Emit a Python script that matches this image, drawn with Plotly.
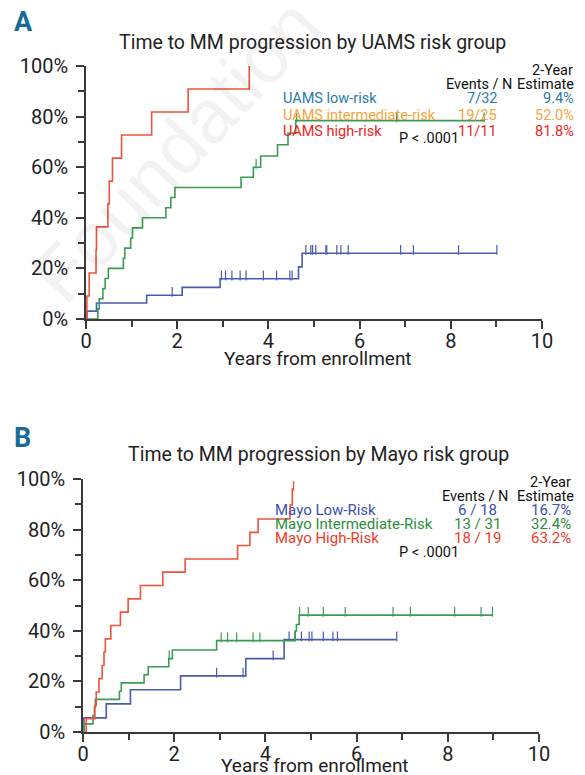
import plotly.graph_objects as go

W, H = 585, 775
FONT = "Roboto, Liberation Sans, Arial, sans-serif"

# ---------------- Data: panel A (UAMS) ----------------
a_low_t = [0, 0.02, 0.23, 1.33, 2.11, 2.94, 4.66, 4.74]
a_low_v = [0, 3.1, 6.3, 9.4, 12.5, 15.9, 20.6, 26.0]
a_low_end = 9.01
a_low_cens = [1.89, 2.97, 3.06, 3.20, 3.38, 3.51, 3.89, 4.18, 4.47, 4.52, 4.82, 4.93,
              4.97, 5.04, 5.26, 5.28, 5.50, 5.59, 5.75, 6.90, 7.18, 8.17, 9.01]

a_int_t = [0, 0.26, 0.29, 0.37, 0.42, 0.49, 0.82, 0.85, 0.98, 1.02, 1.24, 1.75, 1.86,
           1.95, 3.40, 3.67, 3.83, 4.20, 4.43, 4.60]
a_int_v = [0, 4.0, 8.0, 12.0, 16.0, 20.0, 24.0, 28.0, 32.0, 36.0, 40.0, 44.0, 48.0,
           52.0, 56.0, 60.0, 64.4, 68.9, 73.4, 78.4]
a_int_end = 8.73
a_int_cens = [3.73, 4.62, 6.81, 8.73]

a_high_t = [0, 0.02, 0.07, 0.22, 0.23, 0.48, 0.51, 0.58, 0.78, 1.44, 2.24, 3.58]
a_high_v = [0, 9.1, 18.2, 27.3, 36.4, 45.5, 54.5, 63.6, 72.7, 81.8, 90.9, 100]
a_high_end = 3.58
a_high_cens = []

# ---------------- Data: panel B (Mayo) ----------------
b_low_t = [0, 0.02, 0.51, 1.04, 2.14, 3.57, 4.41]
b_low_v = [0, 5.6, 11.1, 16.7, 22.2, 29.0, 36.5]
b_low_end = 6.88
b_low_cens = [2.93, 3.51, 4.17, 4.52, 4.65, 4.79, 4.96, 5.02, 5.27, 5.48, 5.58, 6.88]

b_int_t = [0, 0.02, 0.22, 0.25, 0.27, 0.80, 0.84, 1.34, 1.43, 1.88, 1.96, 2.93, 4.65,
           4.68, 4.74]
b_int_v = [0, 3.2, 6.5, 9.7, 12.9, 16.1, 19.4, 22.6, 25.8, 29.0, 32.4, 36.1, 39.9,
           42.5, 46.2]
b_int_end = 8.98
b_int_cens = [1.89, 3.03, 3.17, 3.37, 3.73, 3.88, 4.75, 4.94, 5.27, 5.75, 6.80, 7.18,
              8.15, 8.73, 8.98]

b_high_t = [0, 0.07, 0.26, 0.29, 0.35, 0.42, 0.46, 0.49, 0.61, 0.82, 0.99, 1.26, 1.75,
            2.24, 3.39, 3.66, 3.84, 4.54, 4.59]
b_high_v = [0, 5.3, 10.5, 15.8, 21.1, 26.3, 31.6, 36.8, 42.1, 47.4, 52.6, 57.9, 63.2,
            68.4, 73.7, 78.9, 84.2, 89.7, 96.0]
b_high_end = 4.62
b_high_cens = [4.62]

# legend tables
a_names = ["UAMS low-risk", "UAMS intermediate-risk", "UAMS high-risk"]
a_events = ["7/32", "19/25", "11/11"]
a_est = ["9.4%", "52.0%", "81.8%"]
b_names = ["Mayo Low-Risk", "Mayo Intermediate-Risk", "Mayo High-Risk"]
b_events = ["6 / 18", "13 / 31", "18 / 19"]
b_est = ["16.7%", "32.4%", "63.2%"]

x_ticks = [0, 2, 4, 6, 8, 10]
y_ticks = [0, 20, 40, 60, 80, 100]

# colours
C_RED = "#f1523e"
C_GREEN = "#3d9a55"
C_BLUE = "#4a5aae"
A_LEG = ["#2a7aaa", "#f6a440", "#ee2424"]
B_LEG = ["#3b50b3", "#2e8c40", "#f03a2c"]
AXC = "#3a3a3a"


def px(x):
    return x / W


def py(y):
    return 1 - y / H


fig = go.Figure()


def step_val(ts, vs, t):
    v = vs[0]
    for ti, vi in zip(ts, vs):
        if ti <= t:
            v = vi
    return v


def add_curve(ts, vs, end, cens, color, xa, ya):
    x = list(ts)
    y = list(vs)
    if end > ts[-1]:
        x.append(end)
        y.append(vs[-1])
    fig.add_trace(go.Scatter(x=x, y=y, mode="lines",
                             line=dict(color=color, width=1.6, shape="hv"),
                             xaxis=xa, yaxis=ya, showlegend=False, hoverinfo="skip"))
    if cens:
        cy = [step_val(ts, vs, c) + 1.3 for c in cens]
        fig.add_trace(go.Scatter(x=cens, y=cy, mode="markers",
                                 marker=dict(symbol="line-ns", size=7,
                                             line=dict(color=color, width=1.2)),
                                 xaxis=xa, yaxis=ya, showlegend=False, hoverinfo="skip",
                                 cliponaxis=False))


add_curve(a_low_t, a_low_v, a_low_end, a_low_cens, C_BLUE, "x", "y")
add_curve(a_int_t, a_int_v, a_int_end, a_int_cens, C_GREEN, "x", "y")
add_curve(a_high_t, a_high_v, a_high_end, a_high_cens, C_RED, "x", "y")

add_curve(b_low_t, b_low_v, b_low_end, b_low_cens, C_BLUE, "x2", "y2")
add_curve(b_int_t, b_int_v, b_int_end, b_int_cens, C_GREEN, "x2", "y2")
add_curve(b_high_t, b_high_v, b_high_end, b_high_cens, C_RED, "x2", "y2")

tickfont = dict(family=FONT, size=20, color="#222")


def xax(domain, anchor):
    return dict(domain=domain, anchor=anchor, range=[0, 10], tickvals=x_ticks,
                ticktext=[str(v) for v in x_ticks], automargin=False,
                ticks="outside", ticklen=8, tickwidth=1.5, tickcolor=AXC,
                showline=True, linecolor=AXC, linewidth=1.8, showgrid=False,
                zeroline=False, tickfont=tickfont, ticklabelstandoff=-5,
                minor=dict(ticks="outside", ticklen=6, tickwidth=1.5, tickcolor=AXC,
                           dtick=1, showgrid=False))


def yax(domain, anchor):
    return dict(domain=domain, anchor=anchor, range=[0, 100], tickvals=y_ticks,
                ticktext=[f"{v}%" for v in y_ticks], automargin=False,
                ticks="outside", ticklen=8, tickwidth=1.5, tickcolor=AXC,
                showline=True, linecolor=AXC, linewidth=1.8, showgrid=False,
                zeroline=False, tickfont=tickfont, ticklabelstandoff=4,
                minor=dict(ticks="outside", ticklen=6, tickwidth=1.5, tickcolor=AXC,
                           dtick=10, showgrid=False))


ann = []


def text(x, y, s, size=15, color="#111", xanchor="left", angle=0):
    ann.append(dict(x=px(x), y=py(y), xref="paper", yref="paper", text=s,
                    showarrow=False, xanchor=xanchor, yanchor="middle",
                    textangle=angle,
                    font=dict(family=FONT, size=size, color=color)))


# watermark (translucent so the curves and labels show through)
ann.append(dict(x=px(175), y=py(150), xref="paper", yref="paper", text="Foundation",
                showarrow=False, xanchor="center", yanchor="middle", textangle=-47,
                font=dict(family="Liberation Sans, Arial, sans-serif", size=76,
                          color="rgba(0,0,0,0.05)")))

# Panel A texts
text(12, 22, "<b>A</b>", size=27, color="#1a6a98")
text(312, 42, "Time to MM progression by UAMS risk group", size=19.5, color="#222",
     xanchor="center")
text(552, 71, "2-Year", size=14.5, xanchor="center")
text(576, 84, "Estimate", size=14.5, xanchor="right")
text(514, 84, "Events / N", size=14.5, xanchor="right")
for i, yy in enumerate([99, 115, 131]):
    text(281, yy, a_names[i], size=14.5, color=A_LEG[i])
    text(499, yy, a_events[i], size=14.5, color=A_LEG[i], xanchor="right")
    text(576, yy, a_est[i], size=14.5, color=A_LEG[i], xanchor="right")
text(429, 139, "P < .0001", size=14.5, xanchor="center")
text(318, 358, "Years from enrollment", size=19, color="#222", xanchor="center")

# Panel B texts
text(12, 438, "<b>B</b>", size=27, color="#1a6a98")
text(318, 455, "Time to MM progression by Mayo risk group", size=19.5, color="#222",
     xanchor="center")
text(550, 483, "2-Year", size=14.5, xanchor="center")
text(576, 496, "Estimate", size=14.5, xanchor="right")
text(510, 496, "Events / N", size=14.5, xanchor="right")
for i, yy in enumerate([510, 524, 538]):
    text(273, yy, b_names[i], size=15, color=B_LEG[i])
    text(477, yy, b_events[i], size=15, color=B_LEG[i], xanchor="center")
    text(573, yy, b_est[i], size=15, color=B_LEG[i], xanchor="right")
text(429, 552, "P < .0001", size=14.5, xanchor="center")
text(315, 765, "Years from enrollment", size=19, color="#222", xanchor="center")

fig.update_layout(
    template="none",
    width=W, height=H, autosize=False,
    margin=dict(l=0, r=0, t=0, b=0, pad=0),
    paper_bgcolor="white", plot_bgcolor="white",
    xaxis=xax([86 / W, 542 / W], "y"),
    yaxis=yax([1 - 319 / H, 1 - 66 / H], "x"),
    xaxis2=xax([83 / W, 539 / W], "y2"),
    yaxis2=yax([1 - 732 / H, 1 - 479 / H], "x2"),
    annotations=ann,
    showlegend=False,
)

fig.write_html(
    "out.html",
    config={"responsive": False, "displayModeBar": False},
    post_script="document.body.style.margin='0px';document.body.style.overflow='hidden';",
)
